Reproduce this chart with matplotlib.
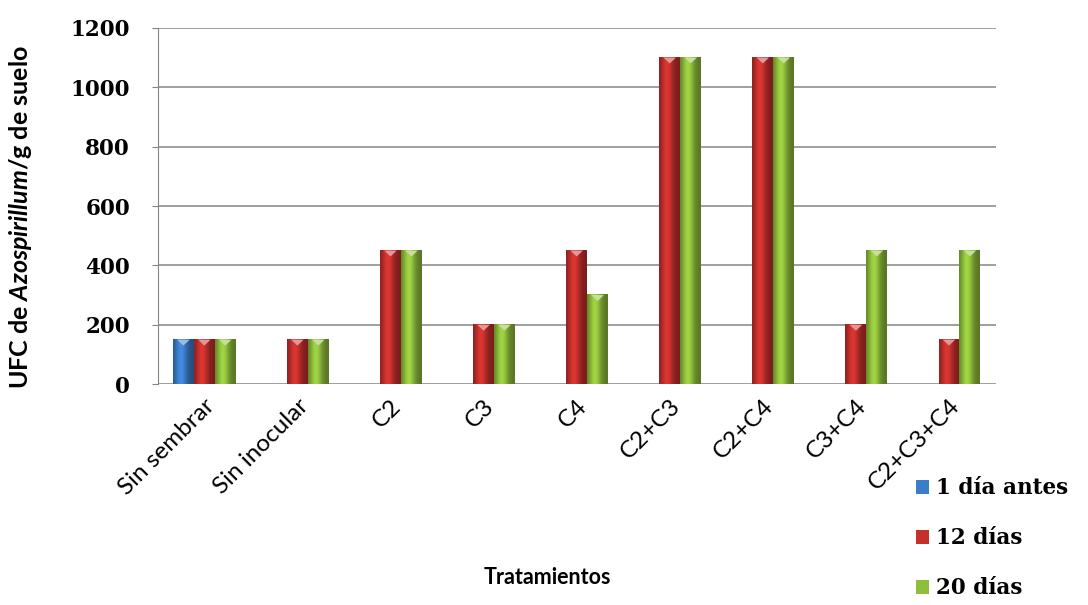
import numpy as np
import matplotlib.pyplot as plt
from matplotlib.colors import to_rgb
from matplotlib.patches import Patch

plt.rcParams["mathtext.fontset"] = "custom"
plt.rcParams["mathtext.it"] = "Lato:italic:bold"
plt.rcParams["mathtext.rm"] = "Lato:bold"

tratamientos = ["Sin sembrar", "Sin inocular", "C2", "C3", "C4",
                "C2+C3", "C2+C4", "C3+C4", "C2+C3+C4"]
dia_antes = [150, 0, 0, 0, 0, 0, 0, 0, 0]
dias_12 = [150, 150, 450, 200, 450, 1100, 1100, 200, 150]
dias_20 = [150, 150, 450, 200, 300, 1100, 1100, 450, 450]

series = [("1 día antes", dia_antes, "#3b7dc8"),
          ("12 días", dias_12, "#c4302c"),
          ("20 días", dias_20, "#8fbe3c")]


def shade(color, n=64):
    # horizontal light/dark profile to fake a cylinder
    base = np.array(to_rgb(color))
    t = np.linspace(0, 1, n)
    k = 0.62 + 0.5 * np.exp(-((t - 0.38) / 0.3) ** 2)
    rgb = np.clip(base[None, :] * k[:, None], 0, 1)
    return rgb[None, :, :]


fig = plt.figure(figsize=(10.88, 6.05), dpi=100)
ax = fig.add_axes([0.145, 0.365, 0.77, 0.589])

x = np.arange(len(tratamientos))
width = 0.225
for i, (name, vals, color) in enumerate(series):
    bars = ax.bar(x + (i - 1) * width, vals, width, color=color, zorder=3)
    img = shade(color)
    for b in bars:
        if b.get_height() <= 0:
            continue
        ax.imshow(img, extent=(b.get_x(), b.get_x() + b.get_width(), 0, b.get_height()),
                  aspect="auto", zorder=4, interpolation="bilinear")
        top = np.array(to_rgb(color)) * 0.5 + 0.5
        ax.fill([b.get_x() + b.get_width() * 0.2, b.get_x() + b.get_width() * 0.8,
                 b.get_x() + b.get_width() * 0.5],
                [b.get_height(), b.get_height(), b.get_height() - 20],
                color=top, zorder=5, lw=0)

ax.set_xlim(-0.5, len(tratamientos) - 0.5)
ax.set_ylim(0, 1200)
ax.set_yticks(range(0, 1201, 200))
ax.yaxis.grid(True, color="#858585", lw=1.1)
ax.set_axisbelow(True)
for s in ["top", "right", "bottom"]:
    ax.spines[s].set_visible(False)
ax.spines["left"].set_color("#858585")
ax.tick_params(axis="y", length=4, color="#858585", labelsize=15.5, pad=16)
ax.tick_params(axis="x", length=0, pad=8)
for lab in ax.get_yticklabels():
    lab.set_family("DejaVu Serif")
    lab.set_weight("bold")

ax.set_xticks(x)
ax.set_xticklabels(tratamientos, rotation=45, ha="right", rotation_mode="anchor",
                   family="Lato", fontsize=17.5)

ax.set_ylabel(r"UFC de $Azospirillum$/g de suelo", family="Lato",
              fontweight="bold", fontsize=18)
ax.yaxis.set_label_coords(-0.148, 0.47)
fig.text(0.503, 0.035, "Tratamientos", family="Lato", fontweight="bold",
         fontsize=15.5, ha="center")

handles = [Patch(facecolor=c, edgecolor="none") for _, _, c in series]
fig.legend(handles, [n for n, _, _ in series], loc="upper left",
           bbox_to_anchor=(0.828, 0.236), frameon=False,
           prop={"family": "DejaVu Serif", "weight": "bold", "size": 15.5},
           handlelength=0.6, handleheight=0.6, handletextpad=0.35,
           labelspacing=1.3, borderpad=0.2)

fig.savefig("out.png", dpi=100)
